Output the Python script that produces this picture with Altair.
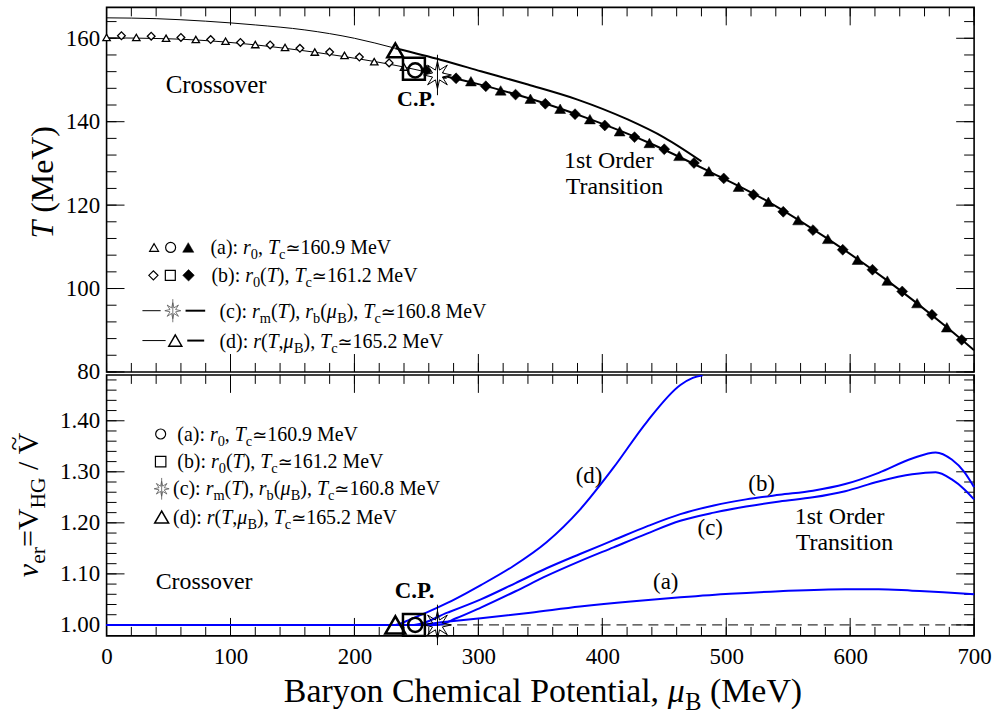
import math
import altair as alt
import pandas as pd

# ---------------- data ----------------
# Upper panel: transition line T(mu_B) in MeV
mu_a_open = [0, 24, 48, 72, 96, 120, 144, 168, 192, 216, 240]
T_a_open = [160.2, 160.2, 160.0, 159.7, 159.3, 158.5, 157.8, 156.7, 155.9, 154.4, 153.1]
mu_b_open = [12, 36, 60, 84, 108, 132, 156, 180, 204, 228]
T_b_open = [160.6, 160.5, 160.2, 159.7, 159.0, 158.4, 157.6, 156.7, 155.5, 154.1]
mu_a_fill = [270, 294, 318, 342, 366, 390, 414, 438, 462, 486, 510, 534, 558, 582, 606, 630, 654, 678]
T_a_fill = [151.5, 149.7, 147.5, 145.5, 143.1, 140.6, 137.7, 134.9, 131.8, 128.1, 124.4, 120.8,
            116.4, 111.9, 106.9, 101.9, 96.5, 90.7]
mu_b_fill = [258, 282, 306, 330, 354, 378, 402, 426, 450, 474, 498, 522, 546, 570, 594, 618, 642, 666, 690]
T_b_fill = [152.3, 150.4, 148.5, 146.5, 144.3, 141.8, 139.1, 136.3, 133.4, 130.1, 126.4, 122.5,
            118.4, 114.0, 109.3, 104.5, 99.3, 93.7, 87.7]
mu_c_line = [0, 48, 96, 144, 192, 240, 267, 300, 342, 390, 438, 486, 534, 582, 630, 678, 700]
T_c_line = [160.1, 159.9, 159.1, 157.6, 155.6, 153.1, 151.3, 149.0, 145.5, 140.6, 134.9, 128.1,
            120.8, 111.9, 101.9, 90.7, 85.2]
mu_d_line = [0, 40, 80, 120, 160, 200, 233, 270, 302, 340, 380, 420, 450, 480]
T_d_line = [164.9, 164.7, 164.1, 163.2, 162.0, 160.0, 157.6, 154.8, 152.1, 148.9, 145.3, 140.6, 136.2, 130.5]

# critical points of the four parametrisations (a, b, c, d)
mu_cp = [249, 248, 267, 233]
T_cp = [152.3, 152.7, 151.2, 157.1]

# Lower panel: nu_er along the transition line
mu_va = [0, 249, 270, 302, 342, 382, 423, 463, 503, 543, 596, 623, 650, 675, 700]
v_a = [1.0, 1.0, 1.005, 1.013, 1.024, 1.036, 1.046, 1.054, 1.061, 1.066, 1.070, 1.070, 1.067, 1.064, 1.060]
mu_vb = [0, 248, 275, 302, 330, 355, 382, 409, 436, 463, 490, 516, 543, 570, 596, 623, 650,
         669, 682, 692, 700]
v_b = [1.0, 1.0, 1.024, 1.050, 1.082, 1.111, 1.139, 1.166, 1.193, 1.217, 1.234, 1.246, 1.255,
       1.263, 1.276, 1.298, 1.326, 1.338, 1.324, 1.300, 1.270]
mu_vc = [0, 267, 282, 302, 330, 355, 382, 409, 436, 463, 490, 516, 543, 570, 596, 623, 650, 669,
         682, 692, 700]
v_c = [1.0, 1.0, 1.013, 1.034, 1.066, 1.096, 1.125, 1.152, 1.179, 1.204, 1.220, 1.232, 1.242, 1.250,
       1.262, 1.281, 1.295, 1.299, 1.285, 1.266, 1.246]
mu_vd = [0, 233, 245, 258, 275, 290, 302, 328, 355, 382, 409, 436, 463, 473, 481]
v_d = [1.0, 1.0, 1.011, 1.024, 1.043, 1.062, 1.078, 1.115, 1.162, 1.226, 1.308, 1.398, 1.470, 1.484, 1.489]
v_ref = 1.0

# axis ranges and tick positions
MU_DOMAIN = [0, 700]
T_DOMAIN = [80, 167.4]
V_DOMAIN = [0.9785, 1.4898]
mu_major = [0, 100, 200, 300, 400, 500, 600, 700]
mu_minor = list(range(0, 701, 20))
T_major = [80, 100, 120, 140, 160]
T_minor = list(range(80, 165, 4))
V_major = [1.0, 1.1, 1.2, 1.3, 1.4]
V_minor = [round(1.0 + 0.02 * k, 2) for k in range(25)]

# ---------------- layout ----------------
W, H_TOP, H_BOT, GAP = 871, 366, 262, 3
SERIF = "Liberation Serif"
SYMF = "DejaVu Serif"
BLUE = "#0000ff"

xs = alt.Scale(domain=MU_DOMAIN, nice=False, zero=False)
ts = alt.Scale(domain=T_DOMAIN, nice=False, zero=False)
vs = alt.Scale(domain=V_DOMAIN, nice=False, zero=False)

t_axis = alt.Axis(values=T_major, format="d", title=None, labelPadding=7)
v_axis = alt.Axis(values=V_major, format=".2f", title=None, labelPadding=7)
mu_axis = alt.Axis(values=mu_major, format="d", title=None, labelPadding=9.5)

# 8-pointed star with a vertical bar, in the unit box
_pts = []
for k in range(16):
    ang = math.pi * k / 8
    r = 1.0 if k % 2 == 0 else 0.38
    _pts.append((r * math.sin(ang), -r * math.cos(ang)))
STAR = "M" + "L".join(f"{x:.3f},{y:.3f}" for x, y in _pts) + "Z M0,-1.45L0,1.45"

# glyph advances (per 1000 em) for composing mixed-style text
W_REG = {' ': 250, '(': 333, ')': 333, ':': 278, ',': 250, '.': 250, '=': 564, '/': 278, '~': 541,
         'a': 444, 'b': 500, 'c': 444, 'd': 500, 'e': 444, 'h': 500, 'i': 278, 'l': 278, 'm': 778,
         'n': 500, 'o': 500, 'r': 333, 's': 389, 't': 278, 'v': 500, 'y': 500,
         'B': 667, 'C': 667, 'G': 722, 'H': 722, 'M': 889, 'O': 722, 'P': 556, 'T': 611, 'V': 722}
for _d in "0123456789":
    W_REG[_d] = 500
W_ITA = {'T': 556, 'r': 389, 'μ': 520, 'ν': 450}
W_BLD = {'C': 722, '.': 250, 'P': 611}


def adv(text, kind, size):
    if kind == "e":
        return 0.838 * size * len(text)
    table = {"i": W_ITA, "b": W_BLD}.get(kind, W_REG)
    return sum(table.get(ch, W_REG.get(ch, 500)) for ch in text) * size / 1000.0


def lay(x0, y0, size, segs, angle=0):
    """Place text runs one after another; kinds: r regular, i italic, b bold, s subscript, e symbol."""
    rows, p = [], 0.0
    for text, kind in segs:
        s, shift = size, 0.0
        if kind == "s":
            s, shift = size * 0.72, size * 0.25
        elif kind == "e":
            s = size * 0.9
        lead = len(text) - len(text.lstrip(" "))
        if lead:
            p += lead * W_REG[" "] * s / 1000.0
            text = text.lstrip(" ")
        w = adv(text, kind, s)
        if angle == 0:
            x, y = x0 + p, y0 + shift
        else:
            x, y = x0 + shift, y0 - p
        rows.append(dict(x=x, y=y, t=text, size=s,
                         style="italic" if kind == "i" else "normal",
                         weight="bold" if kind == "b" else "normal",
                         font=SYMF if kind == "e" else SERIF,
                         angle=angle, align="left"))
        p += w
    return rows, p


def text_layers(rows):
    df = pd.DataFrame(rows)
    out = []
    for key, g in df.groupby(["style", "weight", "font", "angle", "align"]):
        style, weight, font, angle, align = key
        out.append(
            alt.Chart(g[["x", "y", "t", "size"]].reset_index(drop=True))
            .mark_text(font=str(font), fontStyle=str(style), fontWeight=str(weight),
                       angle=float(angle), align=str(align), baseline="alphabetic", color="black")
            .encode(x=alt.X("x:Q", scale=None),
                    y=alt.Y("y:Q", scale=None),
                    size=alt.Size("size:Q", scale=None, legend=None),
                    text="t:N")
        )
    return out


def symbol_layer(rows):
    df = pd.DataFrame(rows)
    return alt.Chart(df).mark_point(opacity=1).encode(
        x=alt.X("x:Q", scale=None),
        y=alt.Y("y:Q", scale=None),
        shape=alt.Shape("shape:N", scale=None, legend=None),
        size=alt.Size("size:Q", scale=None, legend=None),
        fill=alt.Fill("fill:N", scale=None, legend=None),
        stroke=alt.Stroke("stroke:N", scale=None, legend=None),
        strokeWidth=alt.StrokeWidth("sw:Q", scale=None, legend=None),
    )


def seg_layer(rows):
    df = pd.DataFrame(rows)
    return alt.Chart(df).mark_rule(color="black").encode(
        x=alt.X("x:Q", scale=None), x2="x2:Q",
        y=alt.Y("y:Q", scale=None),
        strokeWidth=alt.StrokeWidth("sw:Q", scale=None, legend=None),
    )


def tick_layers(x_axis, y_scale, y_axis, y_minor, y_major, height):
    layers = []
    for vals, ln in ((mu_minor, 9), (mu_major, 18)):
        base = alt.Chart(pd.DataFrame({"v": vals})).mark_rule(color="black", strokeWidth=1)
        xe = alt.X("v:Q", scale=xs, axis=x_axis)
        layers.append(base.encode(x=xe, y=alt.value(0), y2=alt.value(ln)))
        layers.append(base.encode(x=xe, y=alt.value(height), y2=alt.value(height - ln)))
    for vals, ln in ((y_minor, 10), (y_major, 18)):
        base = alt.Chart(pd.DataFrame({"v": vals})).mark_rule(color="black", strokeWidth=1)
        ye = alt.Y("v:Q", scale=y_scale, axis=y_axis)
        layers.append(base.encode(y=ye, x=alt.value(0), x2=alt.value(ln)))
        layers.append(base.encode(y=ye, x=alt.value(W), x2=alt.value(W - ln)))
    return layers


def points(mu, val, yname, yscale, x_axis, y_axis, **mark):
    df = pd.DataFrame({"mu": mu, yname: val})
    return alt.Chart(df).mark_point(opacity=1, **mark).encode(
        x=alt.X("mu:Q", scale=xs, axis=x_axis),
        y=alt.Y(f"{yname}:Q", scale=yscale, axis=y_axis))


def curve(mu, val, yname, yscale, x_axis, y_axis, **mark):
    df = pd.DataFrame({"mu": mu, yname: val})
    return alt.Chart(df).mark_line(interpolate="monotone", **mark).encode(
        x=alt.X("mu:Q", scale=xs, axis=x_axis),
        y=alt.Y(f"{yname}:Q", scale=yscale, axis=y_axis))


# ---------------- upper panel ----------------
TA = dict(x_axis=None, y_axis=t_axis)
ic = mu_c_line.index(mu_cp[2])
id_ = mu_d_line.index(mu_cp[3])
top_layers = [
    alt.Chart(pd.DataFrame({"a": [0]})).mark_rect(opacity=0).encode(
        x=alt.value(-104), x2=alt.value(W + 23), y=alt.value(-5), y2=alt.value(H_TOP)),
]
top_layers += tick_layers(None, ts, t_axis, T_minor, T_major, H_TOP)
top_layers += [
    curve(mu_c_line[:ic + 1], T_c_line[:ic + 1], "T", ts, **TA, color="black", strokeWidth=1),
    curve(mu_c_line[ic:], T_c_line[ic:], "T", ts, **TA, color="black", strokeWidth=2),
    curve(mu_d_line[:id_ + 1], T_d_line[:id_ + 1], "T", ts, **TA, color="black", strokeWidth=1),
    curve(mu_d_line[id_:], T_d_line[id_:], "T", ts, **TA, color="black", strokeWidth=2),
    points(mu_a_open, T_a_open, "T", ts, **TA, shape="triangle-up", size=55, filled=True,
           fill="white", stroke="black", strokeWidth=1.3),
    points(mu_b_open, T_b_open, "T", ts, **TA, shape="diamond", size=60, filled=True,
           fill="white", stroke="black", strokeWidth=1.3),
    points(mu_a_fill, T_a_fill, "T", ts, **TA, shape="triangle-up", size=120, filled=True,
           fill="black", stroke="black", strokeWidth=0.5),
    points(mu_b_fill, T_b_fill, "T", ts, **TA, shape="diamond", size=120, filled=True,
           fill="black", stroke="black", strokeWidth=0.5),
    points([mu_cp[2]], [T_cp[2]], "T", ts, **TA, shape=STAR, size=784, filled=True,
           fill="white", stroke="black", strokeWidth=1),
    points([mu_cp[3]], [T_cp[3]], "T", ts, **TA, shape="triangle-up", size=260, filled=False,
           stroke="black", strokeWidth=2.5),
    points([mu_cp[1]], [T_cp[1]], "T", ts, **TA, shape="square", size=484, filled=False,
           stroke="black", strokeWidth=2.5),
    points([mu_cp[0]], [T_cp[0]], "T", ts, **TA, shape="circle", size=200, filled=False,
           stroke="black", strokeWidth=2.5),
]

top_text = []
for rows_ in (
    lay(59.3, 85.7, 25, [("Crossover", "r")]),
    lay(291.7, 99, 22, [("C.P.", "b")]),
    lay(459.3, 161.7, 24, [("1st Order", "r")]),
    lay(461, 187.7, 24, [("Transition", "r")]),
    lay(104.3, 248, 20, [("(a): ", "r"), ("r", "i"), ("0", "s"), (", ", "r"), ("T", "i"), ("c", "s"),
                         ("≃", "e"), ("160.9 MeV", "r")]),
    lay(105.3, 276, 20, [("(b): ", "r"), ("r", "i"), ("0", "s"), ("(", "r"), ("T", "i"), ("), ", "r"),
                         ("T", "i"), ("c", "s"), ("≃", "e"), ("161.2 MeV", "r")]),
    lay(113.3, 311.5, 20, [("(c): ", "r"), ("r", "i"), ("m", "s"), ("(", "r"), ("T", "i"), ("), ", "r"),
                           ("r", "i"), ("b", "s"), ("(", "r"), ("μ", "i"), ("B", "s"), ("), ", "r"),
                           ("T", "i"), ("c", "s"), ("≃", "e"), ("160.8 MeV", "r")]),
    lay(113.3, 341.5, 20, [("(d): ", "r"), ("r", "i"), ("(", "r"), ("T", "i"), (",", "r"), ("μ", "i"),
                           ("B", "s"), ("), ", "r"), ("T", "i"), ("c", "s"), ("≃", "e"), ("165.2 MeV", "r")]),
    lay(-54, 232, 32, [("T", "i"), (" (MeV)", "r")], angle=270),
):
    top_text += rows_[0]

top_syms = [
    dict(x=47.7, y=241, shape="triangle-up", size=80, fill="white", stroke="black", sw=1.2),
    dict(x=64.3, y=241, shape="circle", size=100, fill="white", stroke="black", sw=1.2),
    dict(x=82, y=241, shape="triangle-up", size=125, fill="black", stroke="black", sw=0.5),
    dict(x=47, y=269, shape="diamond", size=85, fill="white", stroke="black", sw=1.2),
    dict(x=64, y=269, shape="square", size=100, fill="white", stroke="black", sw=1.2),
    dict(x=82.3, y=269, shape="diamond", size=135, fill="black", stroke="black", sw=0.5),
    dict(x=66.5, y=304.5, shape=STAR, size=256, fill="white", stroke="#555555", sw=0.8),
    dict(x=69, y=334.5, shape="triangle-up", size=170, fill="white", stroke="black", sw=1.5),
]
top_segs = [
    dict(x=36, x2=54.3, y=304.5, sw=1), dict(x=79.3, x2=99, y=304.5, sw=2),
    dict(x=36, x2=59.3, y=334.5, sw=1), dict(x=81, x2=98, y=334.5, sw=2),
]
top_layers += [seg_layer(top_segs), symbol_layer(top_syms)] + text_layers(top_text)
top = alt.layer(*top_layers).properties(width=W, height=H_TOP)

# ---------------- lower panel ----------------
BA = dict(x_axis=mu_axis, y_axis=v_axis)
ref_df = pd.DataFrame({"x0": [MU_DOMAIN[0]], "x1": [MU_DOMAIN[1]], "v": [v_ref]})
bot_layers = [
    alt.Chart(pd.DataFrame({"a": [0]})).mark_rect(opacity=0).encode(
        x=alt.value(-104), x2=alt.value(W + 23), y=alt.value(0), y2=alt.value(342)),
]
bot_layers += tick_layers(mu_axis, vs, v_axis, V_minor, V_major, H_BOT)
bot_layers += [
    alt.Chart(ref_df).mark_rule(color="black", strokeWidth=1, strokeDash=[10, 6]).encode(
        x=alt.X("x0:Q", scale=xs, axis=mu_axis), x2="x1:Q",
        y=alt.Y("v:Q", scale=vs, axis=v_axis)),
    curve(mu_va, v_a, "v", vs, **BA, color=BLUE, strokeWidth=2),
    curve(mu_vb, v_b, "v", vs, **BA, color=BLUE, strokeWidth=2),
    curve(mu_vc, v_c, "v", vs, **BA, color=BLUE, strokeWidth=2),
    curve(mu_vd, v_d, "v", vs, **BA, color=BLUE, strokeWidth=2, clip=True),
    points([mu_cp[2]], [v_ref], "v", vs, **BA, shape=STAR, size=784, filled=False,
           stroke="black", strokeWidth=1),
    points([mu_cp[3]], [v_ref], "v", vs, **BA, shape="triangle-up", size=400, filled=False,
           stroke="black", strokeWidth=2.5),
    points([mu_cp[1]], [v_ref], "v", vs, **BA, shape="square", size=484, filled=False,
           stroke="black", strokeWidth=2.5),
    points([mu_cp[0]], [v_ref], "v", vs, **BA, shape="circle", size=200, filled=False,
           stroke="black", strokeWidth=2.5),
]

bot_text = []
title_rows, _ = lay(178, 328, 34, [("Baryon Chemical Potential, ", "r"), ("μ", "i"), ("B", "s"),
                                   (" (MeV)", "r")])
bot_text += title_rows
yt_rows, yt_len = lay(-69, 203, 30, [("ν", "i"), ("er", "s"), ("=V", "r"), ("HG", "s"), (" / ", "r"),
                                     ("V", "r")], angle=270)
bot_text += yt_rows
v_w = adv("V", "r", 30)
bot_text.append(dict(x=-69 - 16, y=203 - (yt_len - v_w / 2), t="~", size=26,
                     style="normal", weight="normal", font=SERIF, angle=270, align="center"))
for rows_ in (
    lay(49.3, 215.3, 24, [("Crossover", "r")]),
    lay(289.3, 224.3, 23, [("C.P.", "b")]),
    lay(471, 108, 23, [("(d)", "r")]),
    lay(644.3, 116.4, 23, [("(b)", "r")]),
    lay(593.3, 160.4, 23, [("(c)", "r")]),
    lay(548.7, 215.4, 23, [("(a)", "r")]),
    lay(691, 149.3, 24, [("1st Order", "r")]),
    lay(692, 176, 24, [("Transition", "r")]),
    lay(71, 66, 20, [("(a): ", "r"), ("r", "i"), ("0", "s"), (", ", "r"), ("T", "i"), ("c", "s"),
                     ("≃", "e"), ("160.9 MeV", "r")]),
    lay(71, 93.3, 20, [("(b): ", "r"), ("r", "i"), ("0", "s"), ("(", "r"), ("T", "i"), ("), ", "r"),
                       ("T", "i"), ("c", "s"), ("≃", "e"), ("161.2 MeV", "r")]),
    lay(66.7, 121, 20, [("(c): ", "r"), ("r", "i"), ("m", "s"), ("(", "r"), ("T", "i"), ("), ", "r"),
                        ("r", "i"), ("b", "s"), ("(", "r"), ("μ", "i"), ("B", "s"), ("), ", "r"),
                        ("T", "i"), ("c", "s"), ("≃", "e"), ("160.8 MeV", "r")]),
    lay(66.7, 149.3, 20, [("(d): ", "r"), ("r", "i"), ("(", "r"), ("T", "i"), (",", "r"), ("μ", "i"),
                          ("B", "s"), ("), ", "r"), ("T", "i"), ("c", "s"), ("≃", "e"), ("165.2 MeV", "r")]),
):
    bot_text += rows_[0]

bot_syms = [
    dict(x=54.3, y=59.3, shape="circle", size=100, fill="white", stroke="black", sw=1.2),
    dict(x=54.3, y=87, shape="square", size=110, fill="white", stroke="black", sw=1.2),
    dict(x=55.3, y=114.3, shape=STAR, size=225, fill="white", stroke="#555555", sw=0.8),
    dict(x=55.3, y=142.7, shape="triangle-up", size=196, fill="white", stroke="black", sw=1.5),
]
bot_layers += [symbol_layer(bot_syms)] + text_layers(bot_text)
bottom = alt.layer(*bot_layers).properties(width=W, height=H_BOT)

chart = (
    alt.vconcat(top, bottom, spacing=GAP, bounds="flush")
    .properties(padding=0, autosize=alt.AutoSizeParams(type="pad"), background="white")
    .configure_view(stroke="black", strokeWidth=1.6)
    .configure_axis(labelFont=SERIF, labelFontSize=23, labelColor="black", ticks=False,
                    tickSize=0, domain=False, grid=False, labelFlush=False)
)

chart.save("out.html", embed_options={"renderer": "svg", "actions": False})
